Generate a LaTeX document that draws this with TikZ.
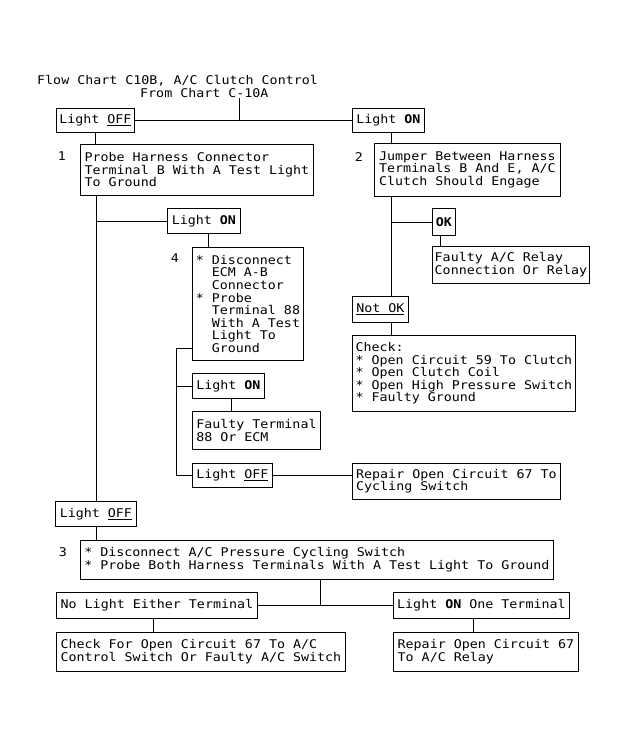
\documentclass[tikz,border=0pt]{standalone}
\usepackage{fontspec}
\setmainfont{DejaVu Sans Mono}[FakeStretch=1.11]
\usetikzlibrary{calc}
\newcommand{\bulletgap}{\hphantom{**}}
\tikzset{
	chartbox/.style={draw, line width=0.8bp, anchor=north west, align=left, inner xsep=2bp, inner ysep=0pt, font=\fontsize{12bp}{12.6bp}\selectfont},
	boxsize/.style 2 args={minimum width=#1bp, minimum height=#2bp},
	chartnum/.style={inner sep=0pt, font=\fontsize{12bp}{12.6bp}\selectfont},
	chartline/.style={line width=0.8bp}
}

\begin{document}
\begin{tikzpicture}[x=1bp, y=-1bp]
			%%%%% START %%%%%
			\fill[white] (0, 0) rectangle (630, 741);
			\useasboundingbox (0, 0) rectangle (630, 741);
			
			\node[chartnum, anchor=west] (title) at (37, 81) {Flow Chart C10B, A/C Clutch Control};
			\node[chartnum, anchor=west] (source) at (140, 93) {From Chart C-10A};
			
			\node[chartbox, boxsize={78}{24}] (offA) at (56, 108) {Light \underline{OFF}};
			\node[chartbox, boxsize={72}{24}] (onA) at (352, 108) {Light \textbf{ON}};
			
			\node[chartnum] (n1) at (62, 156) {1};
			\node[chartbox, boxsize={233}{51}] (step1) at (80, 144) {Probe Harness Connector\\Terminal B With A Test Light\\To Ground};
			\node[chartnum] (n2) at (359, 157) {2};
			\node[chartbox, boxsize={186}{53}] (step2) at (374, 143) {Jumper Between Harness\\Terminals B And E, A/C\\Clutch Should Engage};
			
			\node[chartbox, boxsize={73}{25}] (onB) at (167, 208) {Light \textbf{ON}};
			\node[chartbox, boxsize={23}{27}] (okA) at (432, 208) {\textbf{OK}};
			\node[chartbox, boxsize={157}{37}] (relay) at (432, 246) {Faulty A/C Relay\\Connection Or Relay};
			
			\node[chartnum] (n4) at (175, 258) {4};
			\node[chartbox, boxsize={111}{113}] (step4) at (192, 247) {* Disconnect\\\bulletgap ECM A-B\\\bulletgap Connector\\{*} Probe\\\bulletgap Terminal 88\\\bulletgap With A Test\\\bulletgap Light To\\\bulletgap Ground};
			
			\node[chartbox, boxsize={56}{26}] (notok) at (352, 296) {\underline{Not OK}};
			\node[chartbox, boxsize={223}{76}] (check) at (352, 335) {Check:\\{*} Open Circuit 59 To Clutch\\{*} Open Clutch Coil\\{*} Open High Pressure Switch\\{*} Faulty Ground};
			
			\node[chartbox, boxsize={72}{25}] (onC) at (192, 373) {Light \textbf{ON}};
			\node[chartbox, boxsize={128}{38}] (faulty88) at (192, 411) {Faulty Terminal\\88 Or ECM};
			\node[chartbox, boxsize={80}{24}] (offC) at (192, 463) {Light \underline{OFF}};
			\node[chartbox, boxsize={208}{36}] (repairCyc) at (352, 463) {Repair Open Circuit 67 To\\Cycling Switch};
			
			\node[chartbox, boxsize={81}{25}] (offB) at (55, 501) {Light \underline{OFF}};
			\node[chartnum] (n3) at (63, 552) {3};
			\node[chartbox, boxsize={473}{39}] (step3) at (80, 540) {* Disconnect A/C Pressure Cycling Switch\\{*} Probe Both Harness Terminals With A Test Light To Ground};
			
			\node[chartbox, boxsize={201}{26}] (nolight) at (56, 592) {No Light Either Terminal};
			\node[chartbox, boxsize={176}{26}] (onOne) at (393, 592) {Light \textbf{ON} One Terminal};
			\node[chartbox, boxsize={289}{39}] (checkFor) at (56, 632) {Check For Open Circuit 67 To A/C\\Control Switch Or Faulty A/C Switch};
			\node[chartbox, boxsize={185}{39}] (repairRelay) at (393, 632) {Repair Open Circuit 67\\To A/C Relay};
			
			% drop points that sit off the box centres
			\coordinate (split) at (239, 120);
			\coordinate (trunkR) at ([xshift=3bp]onA.south);
			\coordinate (dropB) at ([xshift=4bp]onB.south);
			\coordinate (dropC) at ([xshift=3bp]onC.south);
			\coordinate (dropOK) at ([xshift=-4bp]okA.south);
			\coordinate (drop3) at ([xshift=3bp]step3.south);
			\coordinate (dropNo) at ([xshift=-4bp]nolight.south);
			\coordinate (dropOne) at ([xshift=-8bp]onOne.south);
			\coordinate (tap4) at (176, 348);
			
			\draw[chartline] (split |- source.south) -- (split);
			\draw[chartline] (offA.east) -- (onA.west);
			\draw[chartline] (offA.south) -- (offA.south |- step1.north);
			\draw[chartline] (trunkR) -- (trunkR |- step2.north);
			
			\draw[chartline] (offB.north |- step1.south) -- (offB.north);
			\draw[chartline] (offB.north |- onB.west) -- (onB.west);
			\draw[chartline] (dropB) -- (dropB |- step4.north);
			\draw[chartline] (step4.west |- tap4) -- (tap4) -- (tap4 |- offC.west) -- (offC.west);
			\draw[chartline] (tap4 |- onC.west) -- (onC.west);
			\draw[chartline] (dropC) -- (dropC |- faulty88.north);
			\draw[chartline] (offC.east) -- (offC.east -| repairCyc.west);
			
			\draw[chartline] (trunkR |- step2.south) -- (trunkR |- notok.north);
			\draw[chartline] (trunkR |- okA.west) -- (okA.west);
			\draw[chartline] (dropOK) -- (dropOK |- relay.north);
			\draw[chartline] (trunkR |- notok.south) -- (trunkR |- check.north);
			
			\draw[chartline] (offB.south) -- (offB.south |- step3.north);
			\draw[chartline] (drop3) -- (drop3 |- nolight.east);
			\draw[chartline] (nolight.east) -- (onOne.west);
			\draw[chartline] (dropNo) -- (dropNo |- checkFor.north);
			\draw[chartline] (dropOne) -- (dropOne |- repairRelay.north);
			%%%%% END %%%%%
\end{tikzpicture}
\end{document}
